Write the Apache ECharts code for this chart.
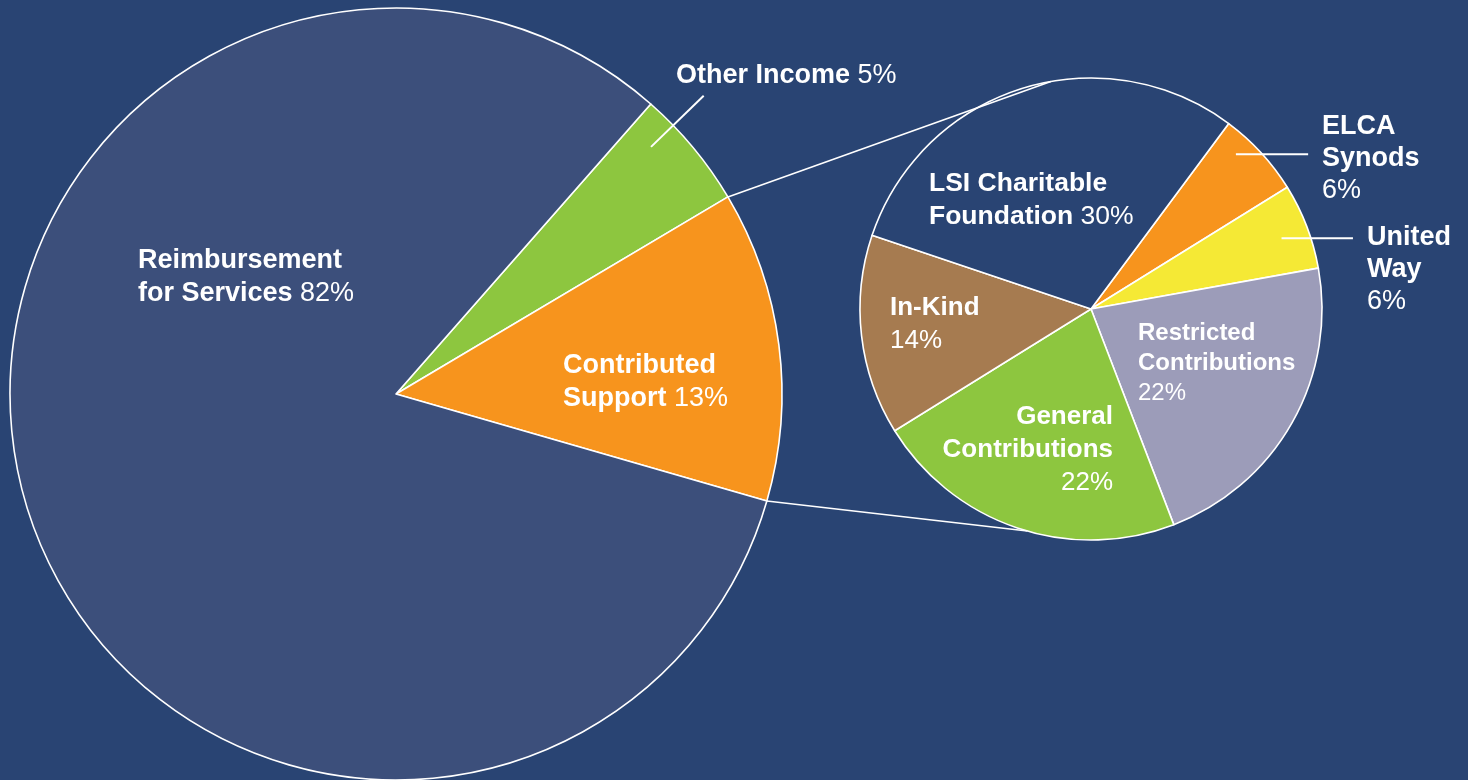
<!DOCTYPE html>
<html>
<head>
<meta charset="utf-8">
<script src="https://cdn.jsdelivr.net/npm/echarts@6/dist/echarts.min.js"></script>
<style>
html,body{margin:0;padding:0;background:#294473;}
#chart{width:1468px;height:780px;}
</style>
</head>
<body>
<div id="chart"></div>
<script>
// ---------- DATA ----------
const incomeNames = ['Other Income', 'Contributed Support', 'Reimbursement for Services'];
const incomeValues = [5, 13, 82];
const incomeLabelText = ['Other Income', 'Contributed\nSupport', 'Reimbursement\nfor Services'];
const incomePctOwnLine = [false, false, false];

const supportNames = ['ELCA Synods', 'United Way', 'Restricted Contributions', 'General Contributions', 'In-Kind', 'LSI Charitable Foundation'];
const supportValues = [6, 6, 22, 22, 14, 30];
const supportLabelText = ['ELCA\nSynods', 'United\nWay', 'Restricted\nContributions', 'General\nContributions', 'In-Kind', 'LSI Charitable\nFoundation'];
const supportPctOwnLine = [true, true, true, true, true, false];

// ---------- STYLE / LAYOUT ----------
const BG = '#294473';
const FONT = '"Liberation Sans", Arial, Helvetica, sans-serif';
const incomeColors = ['#8dc63f', '#f7941d', '#3c4f7b'];
const supportColors = ['#f7941d', '#f5e935', '#9c9cb9', '#8dc63f', '#a67b50', '#294473'];
const BIG = { center: [396, 394], radius: 386, startAngle: 48.7 };
const SMALL = { center: [1091, 309], radius: 231, startAngle: 53.4 };

// label anchor offsets from the pie centre (px), block alignment, font size, line height
const incomeLabelStyle = [
  { dx: 280, dy: -318, align: 'left', size: 27, lh: 33 },
  { dx: 167, dy: -12, align: 'left', size: 27, lh: 33 },
  { dx: -258, dy: -117, align: 'left', size: 27, lh: 33 }
];
const supportLabelStyle = [
  { dx: 231, dy: -150, align: 'left', size: 27, lh: 32 },
  { dx: 276, dy: -39, align: 'left', size: 27, lh: 32 },
  { dx: 47, dy: 54, align: 'left', size: 24, lh: 30 },
  { dx: 22, dy: 141, align: 'right', size: 26, lh: 33 },
  { dx: -201, dy: 15, align: 'left', size: 26, lh: 33 },
  { dx: -162, dy: -109, align: 'left', size: 26.5, lh: 33 }
];
// leader lines: series, item, angle shift from slice mid (deg), start radius fraction,
// either radial end fraction (r1) or horizontal end x as fraction of radius (hx)
const leaderStyle = [
  { series: 0, index: 0, shift: 4.4, r0: 0.92, r1: 1.11 },
  { series: 1, index: 0, shift: 4.3, r0: 0.918, hx: 0.94 },
  { series: 1, index: 1, shift: -0.6, r0: 0.88, hx: 1.134 }
];
// connector lines: from the Contributed Support slice edges to the small pie rim (canvas angle, deg)
const connectorTargets = [-100, 106];

// ---------- BUILD ----------
function richFor(st) {
  const r = {};
  const k = String(st.size).replace('.', '_') + st.align.charAt(0);
  r['b' + k] = { fontFamily: FONT, fontWeight: 'bold', fontSize: st.size, lineHeight: st.lh, color: '#fff', align: st.align };
  r['p' + k] = { fontFamily: FONT, fontWeight: 'normal', fontSize: st.size, lineHeight: st.lh, color: '#fff', align: st.align };
  return r;
}

function buildLabel(text, value, ownLine, st) {
  const k = String(st.size).replace('.', '_') + st.align.charAt(0);
  const lines = text.split('\n').map(function (l) { return '{b' + k + '|' + l + '}'; });
  if (ownLine) lines.push('{p' + k + '|' + value + '%}');
  else lines[lines.length - 1] += '{p' + k + '| ' + value + '%}';
  return lines.join('\n');
}

function makeData(names, values, colors, texts, own, styles) {
  return names.map(function (n, i) {
    return {
      name: n,
      value: values[i],
      itemStyle: { color: colors[i] },
      label: {
        formatter: buildLabel(texts[i], values[i], own[i], styles[i]),
        rich: richFor(styles[i])
      }
    };
  });
}

function pieSeries(cfg, data, styles) {
  return {
    type: 'pie',
    center: cfg.center,
    radius: cfg.radius,
    startAngle: cfg.startAngle,
    clockwise: true,
    avoidLabelOverlap: false,
    animation: false,
    silent: true,
    emphasis: { disabled: true, scale: false },
    itemStyle: { borderColor: '#ffffff', borderWidth: 1.6 },
    label: { show: true, position: 'inside', color: '#fff', fontFamily: FONT },
    labelLine: { show: false },
    labelLayout: function (p) {
      const st = styles[p.dataIndex];
      return { x: cfg.center[0] + st.dx, y: cfg.center[1] + st.dy, align: st.align, verticalAlign: 'middle' };
    },
    data: data
  };
}

const chart = echarts.init(document.getElementById('chart'), null, { renderer: 'canvas' });
const option = {
  backgroundColor: BG,
  animation: false,
  series: [
    pieSeries(BIG, makeData(incomeNames, incomeValues, incomeColors, incomeLabelText, incomePctOwnLine, incomeLabelStyle), incomeLabelStyle),
    pieSeries(SMALL, makeData(supportNames, supportValues, supportColors, supportLabelText, supportPctOwnLine, supportLabelStyle), supportLabelStyle)
  ]
};
chart.setOption(option);

// ---------- DECORATION LINES FROM THE PIE LAYOUT ----------
function fallbackLayout(cfg, values, idx) {
  const sum = values.reduce(function (a, b) { return a + b; }, 0);
  let a = -cfg.startAngle * Math.PI / 180;
  for (let i = 0; i < idx; i++) a += values[i] / sum * Math.PI * 2;
  return { cx: cfg.center[0], cy: cfg.center[1], r: cfg.radius, startAngle: a, endAngle: a + values[idx] / sum * Math.PI * 2 };
}
function layoutOf(si, di) {
  try {
    const l = chart.getModel().getSeriesByIndex(si).getData().getItemLayout(di);
    if (l && l.cx != null) return l;
  } catch (e) {}
  return si === 0 ? fallbackLayout(BIG, incomeValues, di) : fallbackLayout(SMALL, supportValues, di);
}
function pt(l, ang, rad) { return [l.cx + rad * Math.cos(ang), l.cy + rad * Math.sin(ang)]; }

const graphics = [];
const contrib = layoutOf(0, 1);
const small0 = layoutOf(1, 0);
[contrib.startAngle, contrib.endAngle].forEach(function (a, i) {
  const p1 = pt(contrib, a, contrib.r);
  const p2 = pt(small0, connectorTargets[i] * Math.PI / 180, small0.r);
  graphics.push({ type: 'line', z: 100, silent: true, shape: { x1: p1[0], y1: p1[1], x2: p2[0], y2: p2[1] }, style: { stroke: '#fff', lineWidth: 1.6 } });
});
leaderStyle.forEach(function (ls) {
  const l = layoutOf(ls.series, ls.index);
  const mid = (l.startAngle + l.endAngle) / 2 - ls.shift * Math.PI / 180;
  const p1 = pt(l, mid, l.r * ls.r0);
  const p2 = ls.r1 != null ? pt(l, mid, l.r * ls.r1) : [l.cx + l.r * ls.hx, p1[1]];
  graphics.push({ type: 'line', z: 100, silent: true, shape: { x1: p1[0], y1: p1[1], x2: p2[0], y2: p2[1] }, style: { stroke: '#fff', lineWidth: 2 } });
});
chart.setOption({ graphic: graphics });
</script>
</body>
</html>
